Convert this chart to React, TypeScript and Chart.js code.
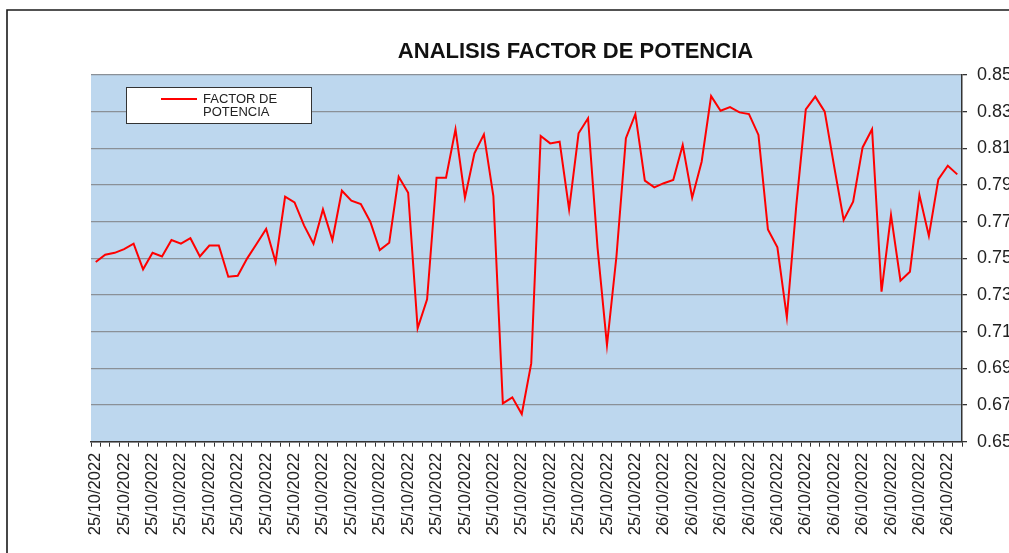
import React, { useEffect, useRef } from "react";
import { Chart, registerables } from "chart.js";

Chart.register(...registerables);

const TITLE = "ANALISIS FACTOR DE POTENCIA";
const SERIES_LABEL = ["FACTOR DE", "POTENCIA"];

const dates: string[] = [
  ...Array(60).fill("25/10/2022"),
  ...Array(32).fill("26/10/2022"),
];

const factorPotencia: number[] = [
  0.748, 0.752, 0.753, 0.755, 0.758,
  0.744, 0.753, 0.751, 0.760, 0.758,
  0.761, 0.751, 0.757, 0.757, 0.740,
  0.7405, 0.750, 0.758, 0.766, 0.748,
  0.7836, 0.7805, 0.768, 0.758, 0.7767,
  0.760, 0.7869, 0.7815, 0.7796, 0.770,
  0.7545, 0.7585, 0.7945, 0.7858, 0.7118,
  0.7277, 0.794, 0.794, 0.8204, 0.7831,
  0.8073, 0.8176, 0.784, 0.6709, 0.6742,
  0.6651, 0.6927, 0.8167, 0.8127, 0.8136,
  0.7767, 0.8182, 0.8264, 0.756, 0.7027,
  0.751, 0.8155, 0.8287, 0.7924, 0.7887,
  0.791, 0.7927, 0.8118, 0.7831, 0.8027,
  0.8385, 0.8305, 0.8325, 0.8296, 0.8287,
  0.8173, 0.7658, 0.756, 0.7178, 0.779,
  0.8313, 0.8382, 0.830, 0.800, 0.771,
  0.7809, 0.8105, 0.8204, 0.7318, 0.7736,
  0.7378, 0.7427, 0.7845, 0.7622, 0.7931,
  0.8005, 0.7958,
];

const Y_MIN = 0.65;
const Y_MAX = 0.85;
const Y_STEP = 0.02;
const LABEL_EVERY = 3;

const FONT = '"Liberation Sans", Arial, sans-serif';
const CANVAS_W = 1060;
const CANVAS_H = 553;

export default function App() {
  const ref = useRef<HTMLCanvasElement | null>(null);

  useEffect(() => {
    if (!ref.current) return;

    const decor = {
      id: "decor",
      beforeDraw(chart: any) {
        const { ctx, chartArea: a } = chart;
        ctx.save();
        ctx.fillStyle = "#ffffff";
        ctx.fillRect(0, 0, chart.width, chart.height);
        ctx.fillStyle = "#BDD7EE";
        ctx.fillRect(a.left, a.top, a.right - a.left, a.bottom - a.top);
        ctx.restore();
      },
      afterDraw(chart: any) {
        const { ctx } = chart;
        ctx.save();
        // outer frame
        ctx.strokeStyle = "#1a1a1a";
        ctx.lineWidth = 1.6;
        ctx.beginPath();
        ctx.moveTo(7, CANVAS_H + 20);
        ctx.lineTo(7, 10);
        ctx.lineTo(CANVAS_W + 20, 10);
        ctx.stroke();
        // title
        ctx.fillStyle = "#111111";
        ctx.font = `bold 22px ${FONT}`;
        ctx.textAlign = "center";
        ctx.textBaseline = "middle";
        ctx.fillText(TITLE, 575.5, 51.5);
        // legend
        ctx.fillStyle = "#ffffff";
        ctx.fillRect(126, 87, 185.5, 36.5);
        ctx.strokeStyle = "#333333";
        ctx.lineWidth = 1;
        ctx.strokeRect(126.5, 87.5, 185, 36);
        ctx.strokeStyle = "#FF0000";
        ctx.lineWidth = 2;
        ctx.beginPath();
        ctx.moveTo(161, 99);
        ctx.lineTo(197, 99);
        ctx.stroke();
        ctx.fillStyle = "#222222";
        ctx.font = `13px ${FONT}`;
        ctx.textAlign = "left";
        ctx.textBaseline = "middle";
        ctx.fillText(SERIES_LABEL[0], 203, 99);
        ctx.fillText(SERIES_LABEL[1], 203, 112.7);
        ctx.restore();
      },
    };

    const chart = new Chart(ref.current, {
      type: "line",
      data: {
        labels: dates,
        datasets: [
          {
            label: SERIES_LABEL.join(" "),
            data: factorPotencia,
            borderColor: "#FF0000",
            backgroundColor: "#FF0000",
            borderWidth: 2,
            pointRadius: 0,
            tension: 0,
            fill: false,
          },
        ],
      },
      options: {
        responsive: false,
        animation: false,
        layout: { padding: { top: 75, left: 91, right: 0, bottom: 0 } },
        plugins: {
          legend: { display: false },
          title: { display: false },
          tooltip: { enabled: false },
        },
        scales: {
          x: {
            type: "category",
            offset: true,
            grid: {
              offset: true,
              drawOnChartArea: false,
              drawTicks: true,
              tickLength: 5,
              color: "#333333",
              tickColor: "#333333",
            },
            border: { display: true, color: "#333333", width: 1.5 },
            ticks: {
              autoSkip: false,
              minRotation: 90,
              maxRotation: 90,
              padding: 6,
              color: "#222222",
              font: { family: FONT, size: 16.5 },
              callback: (_v: any, i: number) =>
                i % LABEL_EVERY === 0 ? dates[i] : "",
            },
            afterFit: (s: any) => {
              s.height = CANVAS_H - 441.7;
            },
          },
          y: {
            position: "right",
            min: Y_MIN,
            max: Y_MAX,
            grid: {
              color: "#8a9097",
              lineWidth: 1.3,
              drawTicks: true,
              tickLength: 5,
              tickColor: "#333333",
            },
            border: { display: true, color: "#333333", width: 1.5 },
            ticks: {
              stepSize: Y_STEP,
              padding: 10,
              color: "#222222",
              font: { family: FONT, size: 18 },
              callback: (v: any) => Number(v).toFixed(2),
            },
            afterFit: (s: any) => {
              s.width = CANVAS_W - 962;
            },
          },
        },
      },
      plugins: [decor],
    } as any);

    return () => chart.destroy();
  }, []);

  return (
    <div
      style={{
        position: "absolute",
        left: 0,
        top: 0,
        width: 1009,
        height: 553,
        overflow: "hidden",
        background: "#ffffff",
      }}
    >
      <canvas
        ref={ref}
        width={CANVAS_W}
        height={CANVAS_H}
        style={{ display: "block", width: CANVAS_W, height: CANVAS_H }}
      />
    </div>
  );
}
